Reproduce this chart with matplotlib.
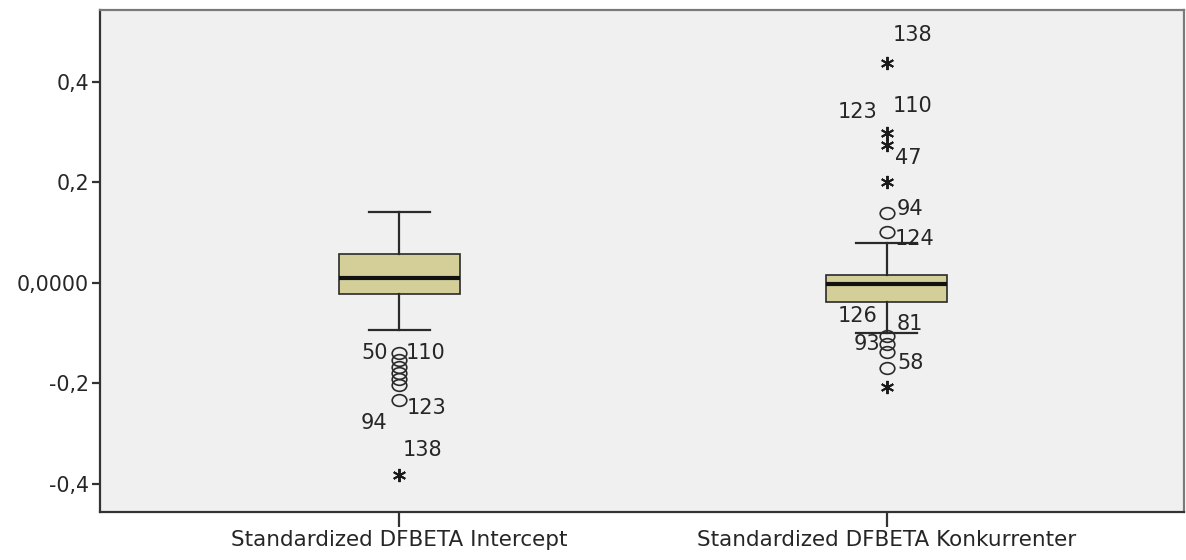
import numpy as np
import matplotlib
matplotlib.use("Agg")
import matplotlib.pyplot as plt
from matplotlib.path import Path
from matplotlib.markers import MarkerStyle

categories = ["Standardized DFBETA Intercept", "Standardized DFBETA Konkurrenter"]

# box summaries per variable
whisker_low = [-0.094, -0.100]
q1 = [-0.022, -0.038]
medians = [0.010, -0.002]
q3 = [0.058, 0.016]
whisker_high = [0.141, 0.080]

# outliers (circles) and extreme values (stars)
outliers = [
    [-0.139, -0.153, -0.167, -0.179, -0.191, -0.203, -0.233],
    [0.139, 0.102, -0.106, -0.121, -0.137, -0.169],
]
extremes = [
    [-0.382],
    [0.438, 0.299, 0.275, 0.201, -0.207],
]

# case numbers printed beside flagged points
case_ids = [
    ["50", "110", "123", "94", "138"],
    ["138", "123", "110", "47", "94", "124", "126", "81", "93", "58"],
]
case_values = [
    [-0.139, -0.139, -0.233, -0.233, -0.382],
    [0.438, 0.299, 0.299, 0.275, 0.139, 0.102, -0.106, -0.106, -0.121, -0.169],
]

ytick_vals = [-0.4, -0.2, 0.0, 0.2, 0.4]
ytick_text = ["-0,4", "-0,2", "0,0000", "0,2", "0,4"]

# label placement in pixels: (dx, dy, horizontal alignment)
label_offsets = [
    [(-11, 0, "right"), (7, 0, "left"), (8, -8, "left"), (-12, -23, "right"), (4, 25, "left")],
    [(6, 28, "left"), (-9, 21, "right"), (6, 27, "left"), (8, -13, "left"),
     (10, 4, "left"), (8, -7, "left"), (-9, 20, "right"), (10, 12, "left"),
     (-7, 0, "right"), (10, 5, "left")],
]

plt.rcParams["font.family"] = ["DejaVu Sans"]

fig = plt.figure(figsize=(11.86, 5.6), dpi=100, facecolor="white")
ax = fig.add_axes([0.0843, 0.0857, 0.9140, 0.8963])
ax.set_facecolor("#f0f0f0")

positions = [1, 2]
stats = []
for i, name in enumerate(categories):
    stats.append(dict(label=name, whislo=whisker_low[i], q1=q1[i], med=medians[i],
                      q3=q3[i], whishi=whisker_high[i], fliers=[]))

ax.bxp(stats, positions=positions, widths=0.248, capwidths=0.125,
       patch_artist=True, showfliers=False,
       boxprops=dict(facecolor="#d4cf98", edgecolor="#2a2a2a", linewidth=1.2),
       medianprops=dict(color="#111111", linewidth=3),
       whiskerprops=dict(color="#2a2a2a", linewidth=1.6),
       capprops=dict(color="#2a2a2a", linewidth=1.6))

# slightly wide open circle like the original renderer
circ = Path.unit_circle()
ellipse = MarkerStyle(Path(circ.vertices * [1.25, 1.0], circ.codes))

for i, pos in enumerate(positions):
    ax.plot(np.full(len(outliers[i]), pos), outliers[i], ls="none",
            marker=ellipse, ms=10.5, mfc="none", mec="#2a2a2a", mew=1.2)
    ax.plot(np.full(len(extremes[i]), pos), extremes[i], ls="none",
            marker=(6, 2, 0), ms=9.5, mec="#1a1a1a", mew=1.4)
    for cid, val, (dx, dy, ha) in zip(case_ids[i], case_values[i], label_offsets[i]):
        ax.annotate(cid, (pos, val), xytext=(dx, dy), textcoords="offset pixels",
                    ha=ha, va="center", fontsize=15, color="#262626")

ax.set_xlim(0.387, 2.609)
ax.set_ylim(-0.456, 0.543)
ax.set_yticks(ytick_vals)
ax.set_yticklabels(ytick_text)
ax.set_xticks(positions)
ax.set_xticklabels(categories)

ax.tick_params(axis="y", length=6, width=1.6, color="#333333", pad=2,
               labelsize=14.8, labelcolor="#262626")
ax.tick_params(axis="x", length=11, width=1.6, color="#333333", pad=2,
               labelsize=15.5, labelcolor="#262626")

for side in ["left", "bottom"]:
    ax.spines[side].set_color("#333333")
    ax.spines[side].set_linewidth(1.6)
for side in ["top", "right"]:
    ax.spines[side].set_color("#7a7a7a")
    ax.spines[side].set_linewidth(1.6)

fig.savefig("out.png", dpi=100, facecolor=fig.get_facecolor())
